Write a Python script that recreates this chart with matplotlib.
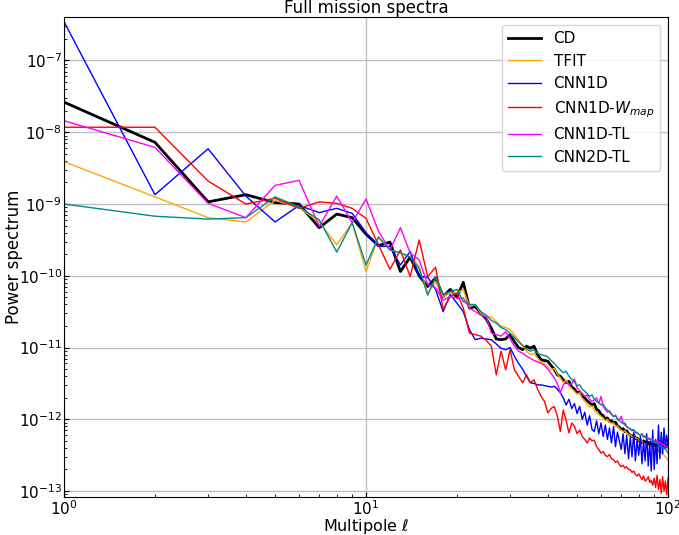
import matplotlib
matplotlib.use("Agg")
import matplotlib.pyplot as plt
import numpy as np

# multipoles
ell = np.arange(1, 101)

# log10 of the power spectra
cd_log = [-7.58, -8.14, -8.97, -8.87, -8.98, -9.00, -9.33, -9.14, -9.19, -9.42,
          -9.58, -9.53, -9.94, -9.74, -10.00, -10.15, -10.03, -10.29, -10.19, -10.30,
          -10.09, -10.45, -10.43, -10.52, -10.60, -10.73, -10.88, -10.89, -10.88, -10.82,
          -10.92, -11.00, -11.03, -10.98, -11.01, -10.98, -11.10, -11.17, -11.18, -11.19,
          -11.25, -11.30, -11.38, -11.40, -11.45, -11.49, -11.47, -11.55, -11.58, -11.63,
          -11.62, -11.68, -11.70, -11.74, -11.77, -11.80, -11.78, -11.86, -11.88, -11.93,
          -11.95, -12.00, -11.98, -12.03, -12.02, -12.05, -12.04, -12.09, -12.11, -12.14,
          -12.13, -12.17, -12.16, -12.20, -12.22, -12.24, -12.22, -12.27, -12.26, -12.30,
          -12.29, -12.32, -12.30, -12.33, -12.31, -12.34, -12.32, -12.36, -12.34, -12.35,
          -12.37, -12.33, -12.36, -12.32, -12.34, -12.37, -12.35, -12.39, -12.36, -12.38]

tfit_log = [-8.41, -8.90, -9.19, -9.25, -8.95, -9.05, -9.25, -9.57, -9.26, -9.94,
            -9.46, -9.64, -9.68, -9.73, -9.87, -10.24, -10.08, -10.29, -10.24, -10.24,
            -10.19, -10.43, -10.40, -10.52, -10.57, -10.57, -10.64, -10.70, -10.72, -10.75,
            -10.82, -10.90, -10.97, -11.05, -11.10, -11.08, -11.15, -11.20, -11.22, -11.27,
            -11.31, -11.29, -11.37, -11.42, -11.49, -11.45, -11.53, -11.57, -11.61, -11.65,
            -11.63, -11.71, -11.75, -11.79, -11.83, -11.81, -11.87, -11.91, -11.93, -11.96,
            -11.98, -12.02, -12.00, -12.04, -12.06, -12.05, -12.10, -12.09, -12.13, -12.15,
            -12.17, -12.16, -12.19, -12.21, -12.22, -12.24, -12.23, -12.26, -12.27, -12.29,
            -12.31, -12.30, -12.33, -12.34, -12.35, -12.37, -12.36, -12.39, -12.38, -12.40,
            -12.42, -12.41, -12.44, -12.46, -12.45, -12.48, -12.50, -12.52, -12.54, -12.57]

cnn1d_log = [-6.46, -8.87, -8.23, -8.89, -9.25, -9.02, -9.12, -9.06, -9.13, -9.40,
             -9.59, -9.59, -9.85, -9.66, -10.01, -10.02, -10.19, -10.50, -10.26, -10.38,
             -10.50, -10.75, -10.89, -10.87, -10.88, -10.89, -10.95, -11.01, -11.03, -11.00,
             -11.12, -11.22, -11.30, -11.40, -11.49, -11.50, -11.52, -11.52, -11.53, -11.54,
             -11.55, -11.54, -11.58, -11.63, -11.70, -11.80, -11.72, -11.85, -11.78, -11.92,
             -11.82, -12.00, -11.90, -12.08, -11.95, -12.14, -12.17, -12.02, -12.20, -12.05,
             -12.24, -12.08, -12.28, -12.12, -12.33, -12.10, -12.38, -12.18, -12.30, -12.42,
             -12.20, -12.48, -12.22, -12.55, -12.25, -12.52, -12.18, -12.58, -12.28, -12.50,
             -12.24, -12.62, -12.30, -12.58, -12.20, -12.65, -12.32, -12.72, -12.15, -12.70,
             -12.28, -12.62, -12.08, -12.55, -12.18, -12.48, -12.12, -12.40, -12.22, -12.36]

wmap_log = [-7.93, -7.93, -8.68, -9.00, -8.92, -9.06, -8.97, -8.99, -9.06, -9.20,
            -9.57, -9.91, -9.64, -10.01, -9.50, -10.01, -9.88, -10.47, -10.29, -10.24,
            -10.45, -10.80, -10.82, -10.84, -10.90, -10.98, -11.38, -11.05, -11.31, -11.03,
            -11.31, -11.40, -11.49, -11.38, -11.49, -11.45, -11.58, -11.68, -11.75, -11.91,
            -11.85, -11.82, -11.95, -12.17, -11.87, -12.02, -12.19, -12.05, -12.10, -12.20,
            -12.15, -12.24, -12.28, -12.33, -12.26, -12.30, -12.29, -12.38, -12.42, -12.47,
            -12.45, -12.50, -12.52, -12.49, -12.55, -12.56, -12.60, -12.58, -12.63, -12.66,
            -12.64, -12.68, -12.66, -12.70, -12.70, -12.74, -12.72, -12.77, -12.79, -12.76,
            -12.80, -12.84, -12.79, -12.86, -12.84, -12.80, -12.88, -12.85, -12.92, -12.82,
            -12.95, -12.78, -12.98, -12.84, -13.03, -12.80, -13.00, -12.86, -13.05, -12.82]

cnn1d_tl_log = [-7.84, -8.21, -8.99, -9.19, -8.74, -8.67, -9.31, -8.89, -9.26, -8.93,
                -9.38, -9.64, -9.33, -9.68, -9.78, -10.12, -10.17, -10.34, -10.29, -10.31,
                -10.31, -10.45, -10.50, -10.55, -10.57, -10.80, -10.82, -10.84, -10.78, -10.88,
                -10.98, -11.05, -11.08, -11.12, -11.15, -11.18, -11.20, -11.22, -11.25, -11.30,
                -11.36, -11.42, -11.50, -11.63, -11.52, -11.48, -11.52, -11.50, -11.44, -11.56,
                -11.60, -11.64, -11.68, -11.66, -11.72, -11.75, -11.73, -11.70, -11.78, -11.68,
                -11.82, -11.86, -11.90, -11.88, -11.93, -11.96, -11.94, -11.99, -12.01, -11.96,
                -12.05, -12.08, -12.10, -12.12, -12.14, -12.16, -12.15, -12.19, -12.18, -12.21,
                -12.22, -12.20, -12.24, -12.23, -12.25, -12.27, -12.26, -12.29, -12.28, -12.30,
                -12.31, -12.29, -12.33, -12.32, -12.34, -12.36, -12.35, -12.38, -12.37, -12.41]

cnn2d_tl_log = [-9.00, -9.17, -9.21, -9.19, -8.90, -9.04, -9.22, -9.67, -9.26, -9.85,
                -9.46, -9.64, -9.68, -9.74, -9.90, -10.27, -10.02, -10.26, -10.22, -10.19,
                -10.36, -10.40, -10.40, -10.50, -10.55, -10.62, -10.66, -10.72, -10.75, -10.80,
                -10.86, -10.92, -10.97, -11.02, -11.05, -11.03, -11.08, -11.10, -11.11, -11.13,
                -11.18, -11.22, -11.27, -11.31, -11.35, -11.33, -11.40, -11.44, -11.48, -11.53,
                -11.52, -11.58, -11.61, -11.64, -11.68, -11.66, -11.72, -11.75, -11.77, -11.80,
                -11.79, -11.84, -11.87, -11.90, -11.93, -11.96, -11.95, -12.00, -12.02, -12.04,
                -12.06, -12.05, -12.10, -12.12, -12.13, -12.15, -12.14, -12.18, -12.19, -12.21,
                -12.22, -12.21, -12.25, -12.24, -12.27, -12.28, -12.27, -12.30, -12.29, -12.31,
                -12.33, -12.32, -12.35, -12.37, -12.38, -12.40, -12.39, -12.42, -12.44, -12.47]

labels = ["CD", "TFIT", "CNN1D", r"CNN1D-$W_{map}$", "CNN1D-TL", "CNN2D-TL"]
colors = ["black", "orange", "blue", "red", "magenta", "darkcyan"]
widths = [2.0, 1.0, 1.0, 1.0, 1.0, 1.0]
series = [cd_log, tfit_log, cnn1d_log, wmap_log, cnn1d_tl_log, cnn2d_tl_log]

fig = plt.figure(figsize=(6.79, 5.35), dpi=100)
ax = fig.add_axes([0.0943, 0.0705, 0.8895, 0.8972])

for vals, lab, col, lw in zip(series, labels, colors, widths):
    ax.plot(ell, 10.0 ** np.array(vals), color=col, lw=lw, label=lab)

ax.set_xscale("log")
ax.set_yscale("log")
ax.set_xlim(1, 100)
ax.set_ylim(8.2e-14, 4.0e-7)
ax.grid(True, which="major", color="0.75", lw=1.0)
ax.tick_params(which="both", direction="in", labelsize=11, pad=1.5)
ax.set_title("Full mission spectra", fontsize=12, pad=1)
ax.set_xlabel(r"Multipole $\ell$", fontsize=11.5, labelpad=-1)
ax.set_ylabel("Power spectrum", fontsize=12, labelpad=-3)
ax.legend(loc="upper right", fontsize=11, handlelength=2.2)

fig.savefig("out.png", dpi=100)
